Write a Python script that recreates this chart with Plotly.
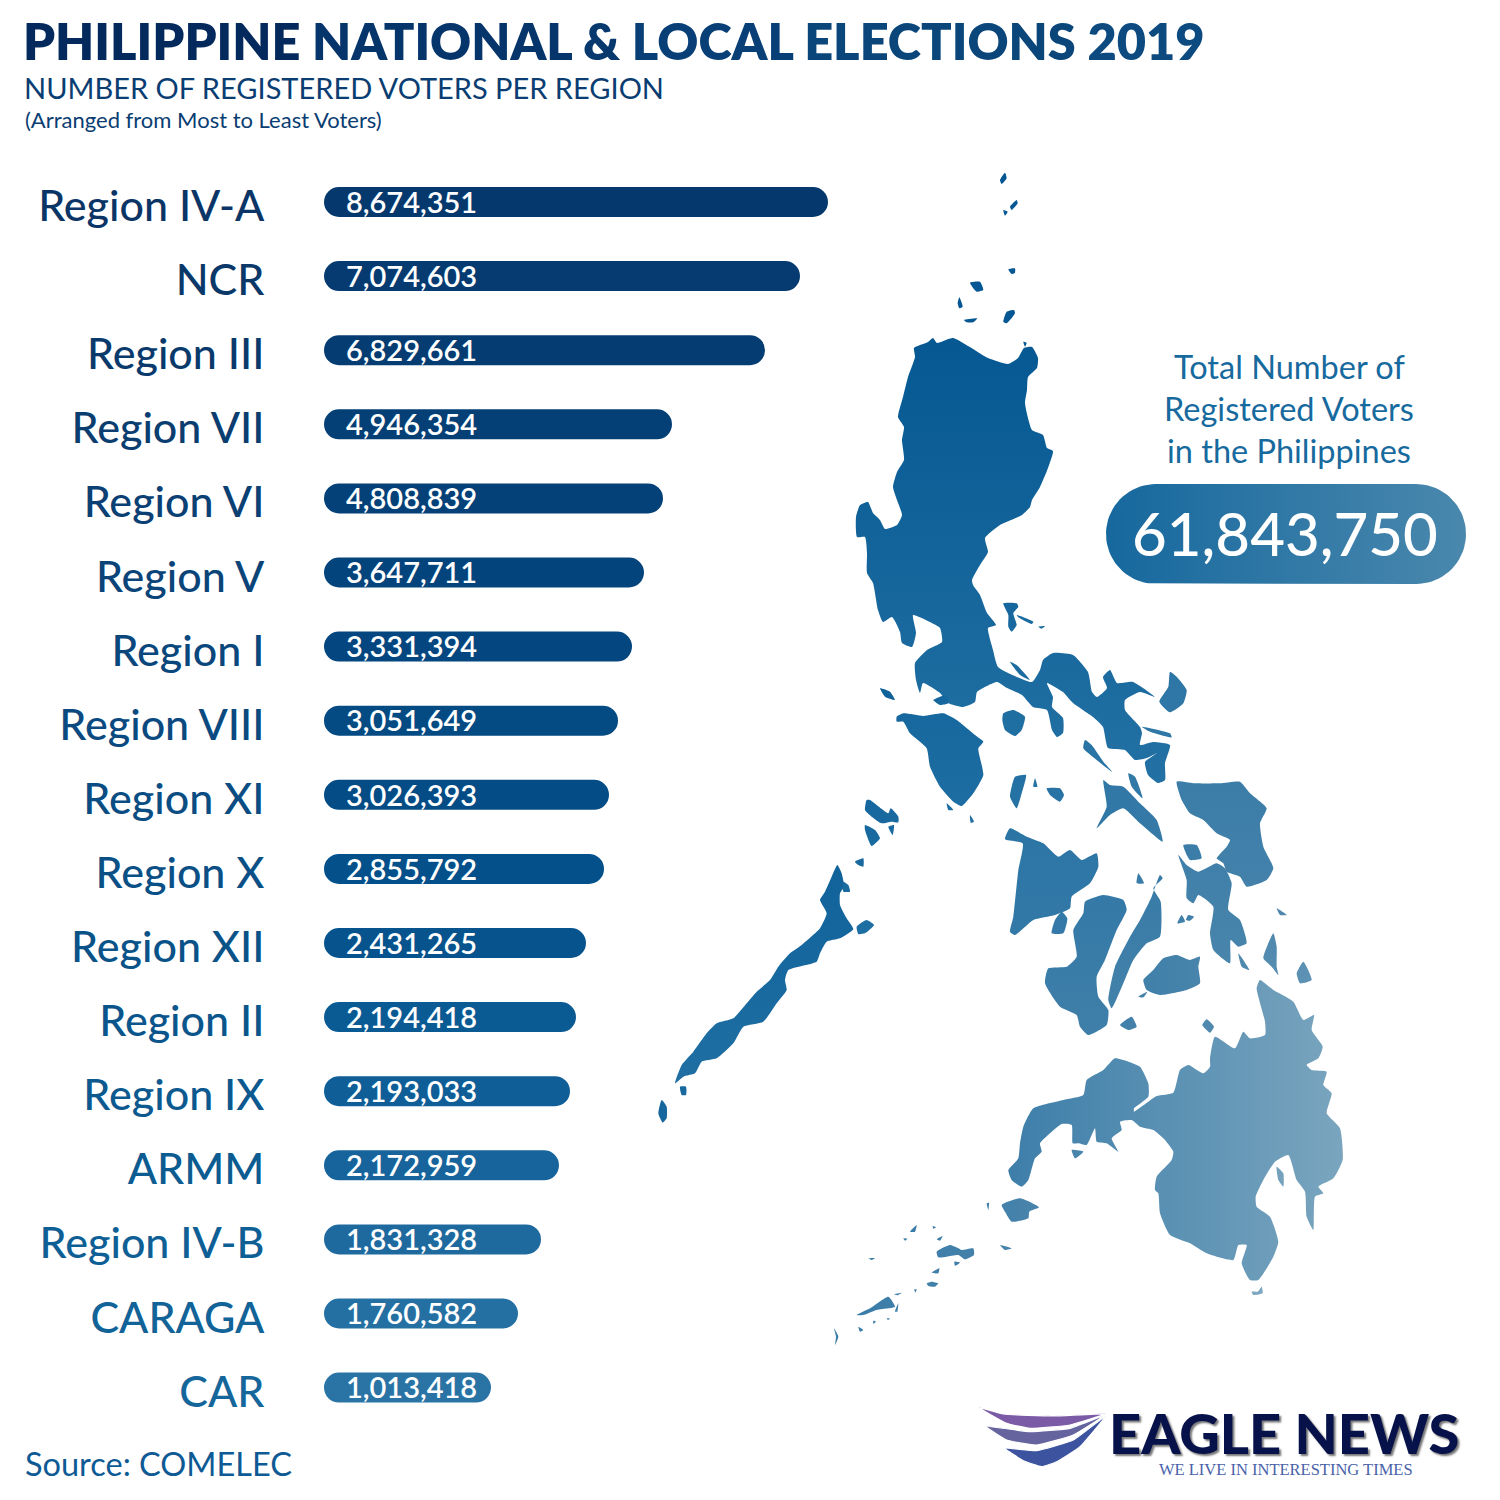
import numpy as np
import plotly.graph_objects as go

# ---------- chart data ----------
regions = ["Region IV-A", "NCR", "Region III", "Region VII", "Region VI", "Region V", "Region I",
           "Region VIII", "Region XI", "Region X", "Region XII", "Region II", "Region IX", "ARMM",
           "Region IV-B", "CARAGA", "CAR"]
voters = [8674351, 7074603, 6829661, 4946354, 4808839, 3647711, 3331394, 3051649, 3026393,
          2855792, 2431265, 2194418, 2193033, 2172959, 1831328, 1760582, 1013418]
# the source infographic's bars are not to scale with the voter counts: these are the drawn lengths
drawn_length = [504, 476, 441, 348, 339, 320, 308, 294, 285, 280, 262, 252, 246, 235, 217, 194, 167]
bar_colors = ["#05396e", "#053b71", "#053c72", "#043f76", "#044179", "#04447c", "#04467f", "#044a83",
              "#044c86", "#04508a", "#06538d", "#0a5a94", "#0f5e97", "#16649b", "#1e6a9f", "#2470a3", "#2a74a5"]
label_colors = ["#0a3566", "#0a3868", "#0a3a6c", "#0a3d70", "#0a4074", "#0a4478", "#0a477c", "#0a4a80",
                "#0a4d83", "#0a5086", "#0a5389", "#0a568c", "#0b598f", "#0c5c92", "#0e5f95", "#116398", "#14669b"]
total_voters = 61843750

# ---------- map outlines: (crop origin x, crop origin y, [(x, y) read at 3x]) ----------
luzon = [(914,348),(928,342),(933,338),(937,343),(953,338),(988,358),(1008,364),(1018,358),(1024,348),(1032,347),
 (1038,358),(1037,368),(1028,377),(1027,390),(1025,403),(1032,430),(1043,435),(1047,448),(1053,451),(1048,468),
 (1040,487),(1032,500),(1030,507),(1022,515),(1000,525),(985,538),(988,552),(980,565),(972,580),(973,585),(980,595),
 (987,613),(996,625),(988,628),(993,650),(998,667),(1017,677),(1032,682),(1040,670),(1043,660),(1053,653),(1073,655),
 (1088,672),(1092,692),(1097,697),(1107,688),(1103,677),(1110,670),(1117,683),(1133,682),(1155,697),(1140,692),
 (1125,700),(1125,710),(1140,727),(1142,733),(1140,745),(1153,742),(1170,745),(1165,763),(1165,780),(1158,783),
 (1148,775),(1145,762),(1157,753),(1147,758),(1135,760),(1125,750),(1108,748),(1103,727),(1093,717),(1073,703),
 (1063,692),(1047,683),(1053,697),(1052,707),(1063,718),(1063,733),(1057,737),(1052,730),(1047,710),(1033,707),
 (1022,695),(1007,688),(997,682),(977,692),(975,702),(963,707),(948,703),(940,693),(923,683),(920,693),(916,680),
 (915,663),(927,650),(942,642),(940,628),(930,622),(913,615),(916,633),(912,647),(902,643),(900,632),(892,617),
 (883,622),(878,610),(873,583),(867,573),(867,553),(865,537),(857,537),(856,517),(860,505),(868,502),(873,513),
 (880,520),(885,529),(897,525),(902,515),(897,500),(893,487),(897,472),(904,460),(902,440),(904,427),(898,417),
 (903,397),(908,377),(915,357)]
north_isles = (840, 140, [
 [(495,98),(500,115),(485,132),(480,120)], [(530,180),(533,190),(515,210),(510,200)], [(490,210),(503,215),(495,227)],
 [(505,388),(525,385),(525,398),(515,402)], [(390,428),(420,425),(430,450),(410,455)],
 [(358,472),(368,500),(358,505),(353,490)], [(372,540),(412,535),(400,547),(380,547)],
 [(490,545),(500,515),(522,510),(525,520),(500,550)], [(550,605),(560,608),(555,620)]])
central_isles = (840, 500, [
 [(170,650),(190,640),(250,648),(310,640),(350,660),(405,705),(430,725),(415,745),(430,825),(400,880),(365,918),(340,905),(300,860),(270,800),(260,745),(210,700),(190,665),(170,665)],
 [(490,640),(520,630),(555,650),(545,690),(525,708),(495,690),(487,660)],
 [(990,515),(1010,530),(1040,570),(1030,610),(990,637),(958,605),(985,560)],
 [(790,840),(810,855),(850,860),(900,910),(950,960),(968,1025),(900,970),(850,925),(810,945),(770,985),(800,920),(795,880)],
 [(490,310),(530,310),(535,320),(520,340),(530,375),(515,395),(505,380),(505,345)],
 [(735,720),(755,735),(790,785),(818,817),(770,780),(730,745)],
 [(525,830),(558,825),(545,880),(530,925),(510,890),(515,860)],
 [(620,865),(660,865),(672,885),(660,905),(630,885)],
 [(865,820),(885,830),(908,895),(875,860)],
 [(120,565),(150,575),(165,600),(135,590)],
 [(510,485),(530,495),(570,540),(540,525)],
 [(585,835),(592,860),(580,860)],
 [(530,345),(580,365),(575,372),(535,352)], [(595,380),(615,378),(605,386)],
 [(905,680),(990,700),(995,712),(930,695)], [(320,910),(340,930),(325,930)], [(390,945),(402,965),(392,968)],
 [(280,600),(320,585),(325,610),(300,615)]])
palawan_isles = (650, 790, [
 [(562,225),(575,250),(582,290),(570,310),(570,345),(590,385),(610,418),(570,445),(530,455),(510,490),(500,515),(415,540),(405,570),(410,600),(380,640),(340,695),(280,710),(250,760),(200,805),(155,815),(135,850),(100,860),(75,880),(95,825),(130,785),(170,730),(200,700),(250,685),(290,640),(320,605),(360,570),(385,530),(420,490),(455,465),(510,415),(530,370),(510,330),(525,305),(545,260)],
 [(650,30),(660,30),(680,45),(715,70),(722,55),(745,80),(745,97),(725,95),(695,100),(665,80),(645,60)],
 [(645,105),(675,120),(690,145),(665,168),(645,120)],
 [(35,930),(50,950),(50,985),(38,998),(25,970)],
 [(620,410),(650,390),(672,405),(645,430),(625,432)],
 [(615,215),(640,205),(640,230),(625,225)],
 [(90,890),(108,890),(108,915),(95,915)],
 [(580,275),(595,285),(600,305),(580,305)], [(715,110),(732,105),(728,135)]])
visayas_isles = (990, 770, [
 [(60,175),(110,200),(160,220),(205,260),(240,240),(275,270),(320,250),(325,290),(300,340),(245,380),(240,415),(195,435),(130,450),(75,495),(60,485),(70,440),(85,300),(98,220),(45,208)],
 [(285,395),(340,375),(400,390),(410,420),(380,480),(345,570),(320,620),(325,680),(355,720),(350,765),(295,795),(270,770),(260,735),(210,710),(165,640),(175,595),(230,590),(260,560),(250,480),(280,430)],
 [(510,315),(518,325),(490,355),(512,395),(510,500),(470,520),(430,570),(400,640),(365,715),(355,690),(375,590),(420,500),(450,450),(485,380)],
 [(520,565),(560,555),(600,570),(630,560),(625,590),(630,640),(590,660),(510,675),(470,660),(460,630),(490,600)],
 [(560,35),(610,40),(690,40),(750,35),(780,70),(830,115),(810,160),(820,230),(850,295),(830,330),(770,350),(750,320),(710,305),(700,280),(680,265),(710,230),(720,210),(680,190),(640,150),(600,130),(575,90)],
 [(565,255),(590,285),(625,305),(680,280),(705,295),(725,340),(715,420),(750,450),(770,520),(745,530),(722,510),(720,580),(670,540),(660,490),(670,410),(625,375),(610,400),(590,385),(590,330)],
 [(580,225),(620,225),(635,265),(600,270)],
 [(390,765),(425,740),(440,770),(415,780)],
 [(215,425),(232,445),(220,490),(185,490),(195,450)],
 [(850,490),(860,530),(860,590),(865,615),(845,590),(820,565)],
 [(940,575),(965,630),(930,640),(920,610)],
 [(650,748),(672,770),(660,788),(637,765)],
 [(745,550),(778,600),(755,590)],
 [(445,310),(462,340),(440,340)],
 [(575,435),(585,455),(562,460)], [(595,435),(612,440),(600,452),(588,450)],
 [(860,415),(890,435),(870,435)], [(445,680),(472,665),(460,682)]])
mindanao_isles = (990, 970, [
 [(810,30),(850,60),(910,95),(940,150),(972,135),(965,180),(998,230),(985,265),(950,285),(965,300),(1010,305),(1000,345),(1025,370),(1010,430),(1050,475),(1058,570),(1030,625),(985,650),(1000,670),(975,680),(970,780),(950,740),(945,665),(920,630),(895,555),(855,575),(820,630),(797,680),(800,710),(840,740),(865,815),(850,860),(805,930),(780,930),(755,880),(770,825),(745,825),(730,870),(650,850),(600,820),(540,795),(510,730),(505,670),(495,660),(500,620),(545,570),(550,545),(520,505),(490,480),(450,470),(425,450),(390,455),(395,480),(365,505),(385,545),(350,520),(320,515),(315,475),(290,525),(265,520),(248,520),(245,465),(215,462),(180,490),(150,520),(155,545),(135,565),(115,630),(95,650),(65,630),(55,600),(85,565),(90,520),(100,470),(130,415),(220,390),(280,375),(290,330),(340,300),(375,265),(415,275),(450,290),(475,340),(475,380),(432,415),(432,425),(500,378),(550,368),(570,300),(595,285),(640,310),(660,290),(660,265),(675,200),(735,235),(760,185),(780,205),(825,195),(825,155),(800,55)],
 [(860,590),(880,610),(880,650),(865,630)],
 [(35,705),(90,685),(147,712),(118,725),(115,745),(65,755),(45,725)],
 [(245,540),(280,545),(255,565)],
 [(785,965),(803,965),(815,950),(818,970),(790,975)]])
sulu_isles = (820, 1160, [
 [(350,275),(390,255),(415,265),(425,270),(460,265),(462,285),(435,298),(415,285),(380,290),(355,292)],
 [(110,465),(150,445),(205,410),(225,440),(205,445),(170,450),(130,465)],
 [(335,338),(358,325),(355,340)], [(320,370),(335,365),(355,370),(345,380),(325,378)],
 [(270,215),(290,195),(285,215)], [(403,305),(420,308),(405,317)],
 [(42,505),(55,530),(45,555),(48,530)], [(540,255),(575,265),(555,270)],
 [(115,500),(130,510),(120,515)], [(225,455),(235,430),(232,455)],
 [(250,235),(262,236),(255,242)], [(145,295),(165,294),(155,300)], [(338,198),(348,202),(340,206)],
 [(350,238),(368,228),(360,242)], [(283,388),(290,388),(286,398)], [(222,403),(245,398),(232,406)],
 [(160,482),(168,484),(160,492)], [(200,475),(210,475),(204,480)], [(500,130),(507,128),(505,150)]])

logo_top = [(55,52),(130,72),(280,78),(435,72),(330,105),(210,115),(140,100)]
logo_mid = [(80,110),(210,125),(330,115),(430,78),(340,135),(230,165),(140,150)]
logo_low = [(135,175),(230,182),(340,150),(437,78),(360,170),(290,215),(245,230),(190,212)]

# ---------- helpers ----------
RAMP = [(0.0, (4, 87, 146)), (0.2, (31, 111, 163)), (0.45, (69, 130, 170)), (0.66, (127, 168, 192)), (0.85, (143, 181, 202))]
def ramp(x, y):
    t = 0.000725 * (x - 950) + 0.000504 * (y - 420)
    t = max(0.0, min(0.85, t))
    for (a, ca), (b, cb) in zip(RAMP, RAMP[1:]):
        if t <= b:
            f = (t - a) / (b - a)
            c = [round(p + (q - p) * f) for p, q in zip(ca, cb)]
            return f"rgb({c[0]},{c[1]},{c[2]})"
    return "rgb(143,181,202)"

fig = go.Figure()

def add_land(points):
    xs = [p[0] for p in points] + [points[0][0]]
    ys = [p[1] for p in points] + [points[0][1]]
    x0, x1, y0, y1 = min(xs), max(xs), min(ys), max(ys)
    cx, cy = (x0 + x1) / 2, (y0 + y1) / 2
    if y1 - y0 >= x1 - x0:
        grad = dict(type="vertical", start=y0, stop=y1,
                    colorscale=[[0, ramp(cx, y0)], [1, ramp(cx, y1)]])
    else:
        grad = dict(type="horizontal", start=x0, stop=x1,
                    colorscale=[[0, ramp(x0, cy)], [1, ramp(x1, cy)]])
    fig.add_trace(go.Scatter(x=xs, y=ys, mode="lines", line=dict(width=0, shape="spline", smoothing=0.5), fill="toself",
                             fillgradient=grad, xaxis="x2", yaxis="y2", hoverinfo="skip", showlegend=False))

add_land(luzon)
for ox, oy, group in (north_isles, central_isles, palawan_isles, visayas_isles, mindanao_isles, sulu_isles):
    for poly in group:
        add_land([(ox + a / 3, oy + b / 3) for a, b in poly])

# ---------- bars: an explicit base makes plotly round both ends ----------
fig.add_trace(go.Bar(y=regions, x=drawn_length, base=[0] * len(regions), orientation="h",
                     marker=dict(color=bar_colors, cornerradius=15, line=dict(width=0)),
                     xaxis="x", yaxis="y", showlegend=False, hoverinfo="skip"))
fig.add_trace(go.Scatter(y=regions, x=[22] * len(regions), mode="text", text=[f"{v:,}" for v in voters],
                         textposition="middle right", textfont=dict(family="Lato", size=29, color="white", weight=600),
                         xaxis="x", yaxis="y3", showlegend=False, hoverinfo="skip"))

# ---------- total pill ----------
ang = np.linspace(-np.pi / 2, np.pi / 2, 40)
pill_x = np.r_[1416 + 50 * np.cos(ang), 1156 - 50 * np.cos(ang)]
pill_y = np.r_[534 + 50 * np.sin(ang), 534 - 50 * np.sin(ang)]
pill_x = np.r_[pill_x, pill_x[0]]
pill_y = np.r_[pill_y, pill_y[0]]
fig.add_trace(go.Scatter(x=pill_x, y=pill_y, mode="lines", line=dict(width=0), fill="toself", xaxis="x2", yaxis="y2",
                         fillgradient=dict(type="horizontal", start=1106, stop=1466,
                                           colorscale=[[0, "#16689e"], [1, "#4a88ad"]]),
                         hoverinfo="skip", showlegend=False))

# ---------- logo wings ----------
for poly, col in ((logo_top, "#7b5aa6"), (logo_mid, "#66649f"), (logo_low, "#3c54a0")):
    pts = [(960 + a / 3, 1390 + b / 3) for a, b in poly]
    fig.add_trace(go.Scatter(x=[p[0] for p in pts] + [pts[0][0]], y=[p[1] for p in pts] + [pts[0][1]], mode="lines",
                             line=dict(width=1.2, color="white", shape="spline", smoothing=0.4), fill="toself",
                             fillcolor=col, xaxis="x2", yaxis="y2", hoverinfo="skip", showlegend=False))

# ---------- texts ----------
def note(x, y, text, size, color, family="Lato", anchor="left", weight=None, shadow=None):
    font = dict(family=family, size=size, color=color)
    if weight:
        font["weight"] = weight
    if shadow:
        font["shadow"] = shadow
    fig.add_annotation(x=x, y=y, xref="x2", yref="y2", text=text, showarrow=False, xanchor=anchor, yanchor="middle",
                       font=font, borderpad=0, align=anchor)

title_html = ('<span style="color:#04295c">PHILIPPINE</span> <span style="color:#06356b">NATIONAL</span> '
              '<span style="color:#07396f">&amp;</span> <span style="color:#083f76">LOCAL</span> '
              '<span style="color:#0a4679">ELECTIONS</span> <span style="color:#0c4a80">2019</span>')
note(22, 40, title_html, 50.5, "#06356b", weight=800)
note(23, 87, "NUMBER OF REGISTERED VOTERS PER REGION", 29, "#0a3d72")
note(24, 119, "(Arranged from Most to Least Voters)", 22, "#0a3d72")
note(24, 1463, "Source: COMELEC", 32.5, "#0e5a94")
note(1289, 366, "Total Number of", 32.5, "#176a9e", anchor="center")
note(1289, 408, "Registered Voters", 32.5, "#176a9e", anchor="center")
note(1289, 450, "in the Philippines", 32.5, "#176a9e", anchor="center")
note(1285, 533, f"{total_voters:,}", 60, "white", anchor="center", weight=500)
note(1108, 1432, "EAGLE NEWS", 56, "#07124a", weight=900, shadow="2px 2px 2px #777777")
note(1286, 1469, "WE LIVE IN INTERESTING TIMES", 16.5, "#4a62a8", family="Liberation Serif", anchor="center")

ticktext = [f'<span style="color:{c}">{r}</span>' for r, c in zip(regions, label_colors)]
ROW_RANGE = [17.517, -2.618]
TEXT_DROP = 3.5 / 74.1          # value labels sit a little below the bar's middle
# The page adds an 8px body margin, so the figure is 1492 wide/high and the scales start at 8.
fig.update_layout(
    width=1492, height=1492, margin=dict(l=0, r=0, t=0, b=0), paper_bgcolor="white", plot_bgcolor="rgba(0,0,0,0)",
    showlegend=False, bargap=0.595, barmode="overlay",
    xaxis=dict(domain=[316 / 1492, 1], range=[0, 1176], visible=False, fixedrange=True),
    yaxis=dict(domain=[0, 1], range=ROW_RANGE, type="category", categoryorder="array", categoryarray=regions,
               anchor="x", tickmode="array", tickvals=regions,
               ticktext=ticktext, tickfont=dict(family="Lato", size=43, weight=500), ticks="outside", ticklen=50,
               tickcolor="rgba(0,0,0,0)", showline=False, showgrid=False, zeroline=False, ticklabelshift=-4, fixedrange=True),
    yaxis3=dict(domain=[0, 1], range=[ROW_RANGE[0] - TEXT_DROP, ROW_RANGE[1] - TEXT_DROP], type="category",
                categoryorder="array", categoryarray=regions, anchor="x", overlaying="y", visible=False, fixedrange=True),
    xaxis2=dict(domain=[0, 1], range=[8, 1500], visible=False, anchor="y2", fixedrange=True),
    yaxis2=dict(domain=[0, 1], range=[1500, 8], visible=False, anchor="x2", fixedrange=True),
)
fig.write_html("out.html")
